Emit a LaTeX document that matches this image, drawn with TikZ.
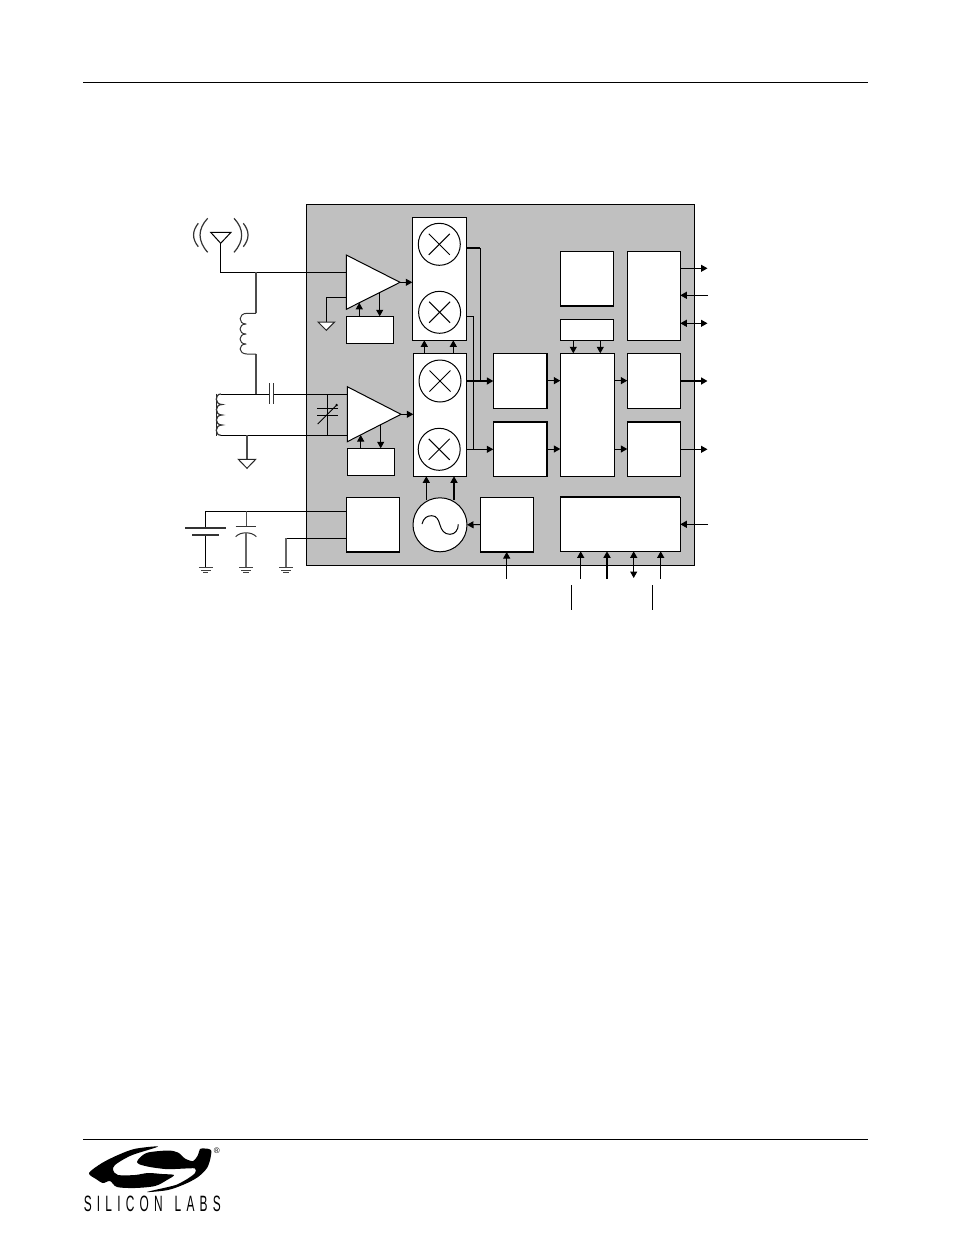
\documentclass[tikz,border=0pt]{standalone}
\usepackage{fontspec}
\usepackage{graphicx}
\newfontfamily\logofont[FakeStretch=0.5,LetterSpace=22]{Liberation Sans}
\newfontfamily\regfont{Liberation Sans}
\usetikzlibrary{arrows.meta,calc}
\definecolor{chipgray}{HTML}{C0C0C0}
\newcommand{\blk}[5]{\node[blk,minimum width={(#4-#2)*1pt},minimum height={(#5-#3)*1pt}] (#1) at ({(#2+#4)/2},{(#3+#5)/2}) {};}
\newcommand{\rnd}[4]{\node[rnd,minimum size={2*#4*1pt}] (#1) at (#2,#3) {};}
\newcommand{\gnd}[1]{\draw[gndl] ($(#1)+(-6.9,0)$) -- ($(#1)+(6.9,0)$) ($(#1)+(-4.8,2.4)$) -- ($(#1)+(4.8,2.4)$) ($(#1)+(-2.6,4.6)$) -- ($(#1)+(2.6,4.6)$);}
\tikzset{
 x=1pt,y=-1pt,
 every path/.style={line width=1pt},
 blk/.style={draw=black,fill=white,inner sep=0pt,outer sep=0pt,line width=1pt},
 rnd/.style={circle,draw=black,fill=white,inner sep=0pt,outer sep=0pt,line width=1pt},
 wire/.style={draw=black,line width=1pt},
 hw/.style={draw=black,line width=1.8pt},
 arr/.style={wire,-{Triangle[length=6.5pt,width=7pt]}},
 darr/.style={wire,{Triangle[length=6.5pt,width=7pt]}-{Triangle[length=6.5pt,width=7pt]}},
 harr/.style={hw,-{Triangle[length=6.5pt,width=7pt]}},
 gndl/.style={draw=black!75,line width=1pt},
 amp/.style={draw=black,fill=white,line width=1pt,line join=miter},
 coil/.style={draw=black!80,line width=1pt,line join=round},
 edgeb/.style={draw=black,line width=1.7pt},
}
\begin{document}
\begin{tikzpicture}
\useasboundingbox (0,0) rectangle (954,1235);
\fill[white] (0,0) rectangle (954,1235);
% rules
\coordinate (rt1) at (83,82); \coordinate (rt2) at (868,82);
\coordinate (rb1) at (83,1139.3); \coordinate (rb2) at (868,1139.3);
\draw[wire] (rt1) -- (rt2);
\draw[wire] (rb1) -- (rb2);
% chip
\blk{chip}{306.4}{204.4}{694.6}{565.2}
\fill[chipgray] (chip.south west) rectangle (chip.north east);
\draw[wire] (chip.south west) rectangle (chip.north east);
% coordinates
\coordinate (ant) at (220.7,232.3);
\coordinate (antb) at (220.7,272.3);
\coordinate (a1a) at (346.3,255); \coordinate (a1b) at (346.3,309.3); \coordinate (a1c) at (400,282.3);
\coordinate (a2a) at (347.3,386.7); \coordinate (a2b) at (347.3,441.7); \coordinate (a2c) at (401,414.3);
\coordinate (in1) at (346.3,272.3);
\coordinate (ljt) at (256,272.3);
\coordinate (lt) at (256,313.3);
\coordinate (lb) at (256,354);
\coordinate (tt) at (256,394);
\coordinate (top2) at (221,394);
\coordinate (in2) at (347.3,394);
\coordinate (bot1) at (221,435.3);
\coordinate (in3) at (347.3,435.3);
\coordinate (gjt) at (247,435.3);
\coordinate (gtr) at (247,459.3);
\coordinate (c1) at (269.3,394);
\coordinate (c2) at (273.3,394);
\coordinate (vt) at (327.3,394);
\coordinate (vb) at (327.3,435.3);
% external wires behind
\draw[wire] (ant) -- (antb) -- (in1);
\draw[draw=black!70,line width=1.2pt] (ljt) -- (lt);
\draw[draw=black!70,line width=1.2pt] (lb) -- (tt);
\draw[wire] (top2) -- (c1);
\draw[wire] (c2) -- (in2);
\draw[wire] (bot1) -- (in3);
\draw[draw=black!70,line width=1.4pt] (gjt) -- (gtr);
\draw[wire] (vt) -- (vb);
% antenna
\draw[wire,fill=white] (210.7,232.3) -- (231,232.3) -- (220.7,243.3) -- cycle;
\draw[draw=black!80,line width=1.2pt] (207.7,218.3) .. controls (197.5,229) and (197.5,241) .. (207.7,252.3);
\draw[draw=black!80,line width=1.2pt] (198.3,223.3) .. controls (192,231) and (192,239) .. (198.3,246.7);
\draw[draw=black!80,line width=1.2pt] (234,218.3) .. controls (244.2,229) and (244.2,241) .. (234,252.3);
\draw[draw=black!80,line width=1.2pt] (243.3,223.3) .. controls (249.6,231) and (249.6,239) .. (243.3,246.7);
% inductor
\draw[coil] (lt) -- (247,313.3) .. controls (238,313.3) and (238,324) .. (246,324)
 .. controls (238,324) and (238,334) .. (246,334)
 .. controls (238,334) and (238,344) .. (246,344)
 .. controls (238,344) and (238,354) .. (247,354) -- (lb);
% transformer
\draw[draw=black!85,line width=1.2pt] (216.7,393.7) -- (216.7,435.5);
\draw[draw=black!80,line width=1.2pt] (top2) .. controls (214.5,394) and (214.5,404.5) .. (222,404.5)
 .. controls (214.5,404.5) and (214.5,415) .. (222,415)
 .. controls (214.5,415) and (214.5,425) .. (222,425)
 .. controls (214.5,425) and (214.5,435.3) .. (bot1);
% series cap
\draw[draw=black!80] (269.3,383.3) -- (269.3,404.3);
\draw[draw=black!80] (273.3,383.3) -- (273.3,404.3);
% var cap
\draw[wire] (317,408.3) -- (337.7,408.3);
\draw[wire] (317,415) -- (337.7,415);
\draw[draw=black,line width=1pt] (317.7,424) -- (336.7,405);
\fill[black] (336.7,405) circle (1.3);
% ground triangle
\draw[draw=black!85,fill=white] (238.3,459.3) -- (255.7,459.3) -- (247,468.3) -- cycle;
% LNA1 ground
\coordinate (g1a) at (347,297.3); \coordinate (g1b) at (326,297.3); \coordinate (g1c) at (326,322);
\draw[wire] (g1a) -- (g1b) -- (g1c);
\draw[draw=black!85,fill=white,line width=1pt] (318,322) -- (334.7,322) -- (326.3,330.3) -- cycle;
% amplifiers
\draw[amp] (a1a) -- (a1c) -- (a1b) -- cycle;
\draw[amp] (a2a) -- (a2c) -- (a2b) -- cycle;
% blocks
\blk{agc1}{346.3}{316.3}{393.3}{343.3}
\blk{agc2}{347.3}{448.3}{394.3}{475.3}
\blk{mixa}{412.3}{217.3}{466.3}{340.3}
\blk{mixb}{413.3}{353.3}{466.3}{476.3}
\rnd{x1}{439.3}{244.3}{21}
\rnd{x2}{439.6}{312.3}{21}
\rnd{x3}{440}{381}{21}
\rnd{x4}{439.2}{449.3}{21}
\foreach \n in {x1,x2,x3,x4}{
 \draw[wire] ($(\n)+(-10.5,-10.5)$) -- ($(\n)+(10.5,10.5)$);
 \draw[wire] ($(\n)+(10.5,-10.5)$) -- ($(\n)+(-10.5,10.5)$);
}
\blk{ifa}{493.3}{353.3}{547}{408}
\blk{ifb}{493.3}{421.7}{547}{476.3}
\blk{dsp}{560.3}{353.3}{614.3}{476.3}
\blk{rds}{560.3}{251.3}{613.3}{306}
\blk{ctl}{560.3}{319.3}{613.3}{340.3}
\blk{gpio}{627.3}{251.3}{680.3}{340.3}
\blk{daca}{627.3}{353.3}{680.3}{408}
\blk{dacb}{627.3}{421.7}{680.3}{476.3}
\blk{bus}{560.3}{497}{680.3}{551.3}
\blk{afc}{480.3}{497.3}{533.3}{552}
\blk{ldo}{346.3}{497.3}{399.7}{552}
\rnd{osc}{440}{524.8}{27}
\draw[wire] (422,524) .. controls (423.5,518) and (427,515.7) .. (431.7,515.7) .. controls (437,515.7) and (438.5,520) .. (440,525) .. controls (441.5,530) and (444,534.3) .. (450,534.3) .. controls (455,534.3) and (458.3,530) .. (458.3,524.3);
% thick block edges
\draw[edgeb] (rds.south west) -- (rds.south east);
\draw[edgeb] (afc.south west) -- (afc.south east);
\draw[edgeb] (ldo.south west) -- (ldo.south east);
\draw[edgeb] (ifa.south east) -- (ifa.north east);
\draw[edgeb] (ifb.south east) -- (ifb.north east);
\draw[edgeb] (ifb.north west) -- (ifb.north east);
\draw[edgeb] (dacb.north west) -- (dacb.north east);
\draw[edgeb] (bus.north west) -- (bus.north east);
% amp connectors
\draw[arr] (a1c) -- (a1c -| mixa.west);
\draw[arr] (a2c) -- (a2c -| mixb.west);
\coordinate (u1) at (359.3,302.8); \coordinate (d1) at (379.7,293.3);
\coordinate (u2) at (360.7,435); \coordinate (d2) at (380.7,425);
\draw[arr] (u1 |- agc1.north) -- (u1);
\draw[arr] (d1) -- (d1 |- agc1.north);
\draw[arr] (u2 |- agc2.north) -- (u2);
\draw[arr] (d2) -- (d2 |- agc2.north);
% mixer stack
\coordinate (q1) at (424.3,347); \coordinate (q2) at (453.3,347);
\draw[arr] (q1 |- mixb.north) -- (q1 |- mixa.south);
\draw[arr] (q2 |- mixb.north) -- (q2 |- mixa.south);
% oscillator
\coordinate (o1) at (426.3,500); \coordinate (o2) at (454,500);
\draw[arr] (o1) -- (o1 |- mixb.south);
\draw[arr,line width=1.4pt] (o2) -- (o2 |- mixb.south);
\draw[arr] (afc.west) -- (osc.east);
% mixer outputs
\coordinate (m1) at (466.3,248); \coordinate (m1k) at (480.3,248); \coordinate (m1e) at (480.3,381);
\coordinate (m2) at (466.3,316.3); \coordinate (m2k) at (473,316.3); \coordinate (m2e) at (473,449.3);
\coordinate (m3) at (466.3,381); \coordinate (m4) at (466.3,449.3);
\draw[hw] (m1) -- (m1k);
\draw[wire] (m1k) -- (m1e);
\draw[wire] (m2) -- (m2k) -- (m2e);
\draw[harr] (m3) -- (m3 -| ifa.west);
\draw[arr] (m4) -- (m4 -| ifb.west);
% chain
\draw[harr,line width=1.4pt] (ifa.east) -- (ifa.east -| dsp.west);
\draw[arr] (ifb.east) -- (ifb.east -| dsp.west);
\draw[harr,line width=1.4pt] (daca.west -| dsp.east) -- (daca.west);
\draw[arr] (dacb.west -| dsp.east) -- (dacb.west);
\coordinate (k1) at (573.3,340.3); \coordinate (k2) at (600.3,340.3);
\draw[arr] (k1) -- (k1 |- dsp.north);
\draw[arr] (k2) -- (k2 |- dsp.north);
% right pins
\coordinate (p1) at (707.5,268.3); \coordinate (p2) at (708,295.3); \coordinate (p3) at (707.5,323.3);
\coordinate (p4) at (707.5,381); \coordinate (p5) at (707.5,449.3); \coordinate (p6) at (708,524.3);
\draw[arr] (p1 -| gpio.east) -- (p1);
\draw[arr] (p2) -- (p2 -| gpio.east);
\draw[darr] (p3 -| gpio.east) -- (p3);
\draw[harr] (p4 -| daca.east) -- (p4);
\draw[arr] (p5 -| dacb.east) -- (p5);
\draw[arr] (p6) -- (p6 -| bus.east);
% bottom pins
\coordinate (b0) at (506.7,579); \coordinate (b1) at (580.7,579); \coordinate (b2) at (607,579);
\coordinate (b3) at (633.7,578); \coordinate (b4) at (660.7,579);
\draw[arr] (b0) -- (b0 |- afc.south);
\draw[arr] (b1) -- (b1 |- bus.south);
\draw[harr] (b2) -- (b2 |- bus.south);
\draw[darr] (b3 |- bus.south) -- (b3);
\draw[arr] (b4) -- (b4 |- bus.south);
\coordinate (s1a) at (571.7,585.3); \coordinate (s1b) at (571.7,610);
\coordinate (s2a) at (652.3,585.3); \coordinate (s2b) at (652.3,610);
\draw[wire] (s1a) -- (s1b);
\draw[wire] (s2a) -- (s2b);
% supply
\coordinate (v1) at (205.7,511.3); \coordinate (v1e) at (346.3,511.3);
\coordinate (g1) at (205.7,567.7); \coordinate (g2) at (246,567.7); \coordinate (g3) at (286,567.7);
\coordinate (g3t) at (286,538); \coordinate (g3e) at (346.3,538);
\coordinate (ct) at (246,511.3);
\draw[wire] (v1e) -- (v1) -- (205.7,528);
\draw[wire] (205.7,535) -- (g1);
\draw[draw=black!80,line width=1.2pt] (185.3,528) -- (226,528);
\draw[draw=black!80,line width=1.6pt] (192,535) -- (219.3,535);
\draw[draw=black!70] (ct) -- (246,526.3);
\draw[draw=black!80] (235.7,526.3) -- (256.3,526.3);
\draw[draw=black!80] (235.7,536.7) .. controls (240,531.5) and (252,531.5) .. (256.3,536.7);
\draw[draw=black!60,line width=1.2pt] (246,533) -- (g2);
\draw[wire] (g3e) -- (g3t);
\draw[draw=black!60,line width=1.2pt] (g3t) -- (g3);
\gnd{g1}\gnd{g2}\gnd{g3}
% logo
\fill[black] plot[smooth cycle,tension=0.5] coordinates {
 (158,1146.5) (135,1148.8) (118,1155) (102,1163) (89,1173) (96,1179) (103,1183) (110,1181)
 (117,1187) (135,1188) (155,1186) (167,1180) (174,1175)
 (162,1174) (148,1173) (135,1175) (118,1175) (113,1170) (115,1165) (125,1158.5) (135,1154)};
\fill[black] plot[smooth cycle,tension=0.5] coordinates {
 (137,1162) (140,1157.5) (148,1152.5) (168,1150.5) (178,1152.5) (185,1158.5) (193,1161) (198,1155) (200,1149)
 (205,1148.5) (211,1150) (210.5,1158) (207,1168) (198,1177) (185,1184) (168,1190) (147,1192)
 (168,1187) (177,1184.5) (188,1178.5) (195,1173) (195,1168.5) (185,1168.5) (175,1169) (165,1169) (150,1167) (140,1164.5)};
\node[inner sep=0pt,anchor=center] (logotext) at (152.3,1204) {\resizebox{137pt}{15.5pt}{\logofont SILICON\hspace{5pt}LABS}};
\node[inner sep=0pt,font=\fontsize{8}{8}\selectfont\regfont] (reg) at (216.7,1151) {®};
\end{tikzpicture}
\end{document}
